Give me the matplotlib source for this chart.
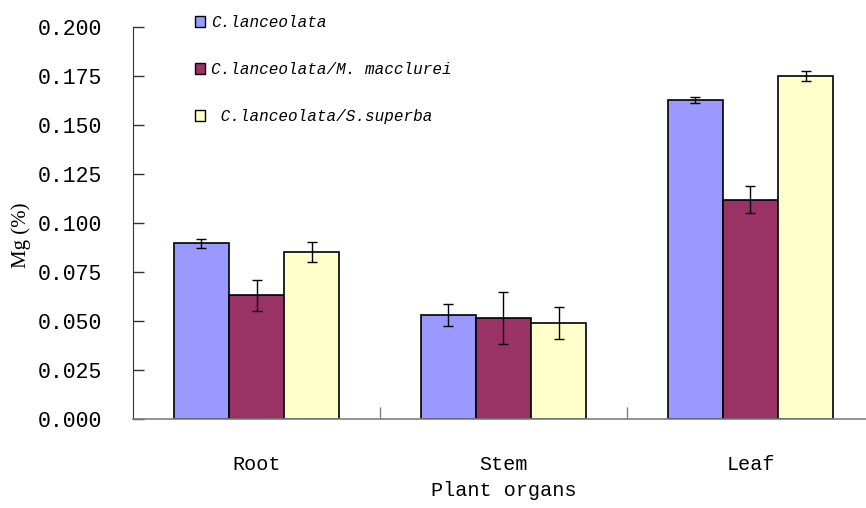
import matplotlib
matplotlib.use("Agg")
import matplotlib.pyplot as plt
from matplotlib.patches import Patch
import numpy as np

categories = ["Root", "Stem", "Leaf"]
series_names = ["C.lanceolata", "C.lanceolata/M. macclurei", " C.lanceolata/S.superba"]
values_cl = [0.0896, 0.0531, 0.1628]
values_cl_mm = [0.0631, 0.0515, 0.1119]
values_cl_ss = [0.0852, 0.0488, 0.1750]
err_cl = [0.0023, 0.0058, 0.0015]
err_cl_mm = [0.0080, 0.0133, 0.0069]
err_cl_ss = [0.0050, 0.0082, 0.0026]
yticks = [0.000, 0.025, 0.050, 0.075, 0.100, 0.125, 0.150, 0.175, 0.200]

colors = ["#9999FF", "#993366", "#FFFFCC"]
mono = ["Liberation Mono", "DejaVu Sans Mono"]

fig = plt.figure(figsize=(8.66, 5.08), dpi=100)
ax = fig.add_axes([133/866, 1-419/508, (874-133)/866, (419-27)/508])

x = np.arange(len(categories))
w = 0.2227
series = [(values_cl, err_cl), (values_cl_mm, err_cl_mm), (values_cl_ss, err_cl_ss)]
handles = []
for i, (vals, errs) in enumerate(series):
    pos = x + (i - 1) * w
    ax.bar(pos, vals, width=w, color=colors[i], edgecolor="black", linewidth=1.2, zorder=2)
    ax.errorbar(pos, vals, yerr=errs, fmt="none", ecolor="black", elinewidth=1.0,
                capsize=3.5, capthick=1.0, zorder=3)
    handles.append(Patch(facecolor=colors[i], edgecolor="black", linewidth=1.0, label=series_names[i]))

ax.set_xlim(-0.5, 2.5)
ax.set_ylim(0, 0.2)
ax.set_yticks(yticks)
ax.set_yticklabels([f"{v:.3f}" for v in yticks], family=mono, fontsize=15.5)
ax.tick_params(axis="y", direction="in", length=8, width=1, color="#333333", pad=22)

ax.set_xticks(x)
ax.set_xticklabels(categories, family=mono, fontsize=14.5)
ax.tick_params(axis="x", which="major", length=0, pad=26)
ax.set_xticks([0.5, 1.5], minor=True)
ax.tick_params(axis="x", which="minor", direction="in", length=9, width=1, color="#808080")

for s in ["top", "right"]:
    ax.spines[s].set_visible(False)
ax.spines["left"].set_color("#333333")
ax.spines["bottom"].set_color("#808080")
ax.spines["bottom"].set_linewidth(1.2)

ax.set_xlabel("Plant organs", family=mono, fontsize=14.5, labelpad=5)
fig.text(21/866, 1-235/508, "Mg (%)", rotation=90, ha="center", va="center",
         family=["Liberation Serif", "DejaVu Serif"], fontsize=15)

leg = fig.legend(handles=handles, loc="upper left", bbox_to_anchor=(187/866, 1-7/508),
                 frameon=False, prop={"family": mono, "style": "italic", "size": 11.5},
                 handlelength=0.65, handleheight=0.65, handletextpad=0.35, labelspacing=2.0,
                 borderpad=0)

fig.savefig("out.png", dpi=100)
